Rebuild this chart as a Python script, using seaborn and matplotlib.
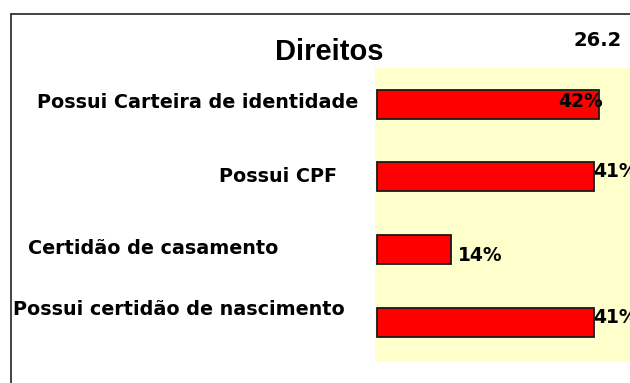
import matplotlib
matplotlib.use("Agg")
import matplotlib.pyplot as plt
import matplotlib.transforms as mtransforms
from matplotlib.lines import Line2D
import seaborn as sns
import pandas as pd

# Chart data
categories = [
    "Possui Carteira de identidade",
    "Possui CPF",
    "Certidão de casamento",
    "Possui certidão de nascimento",
]
values = [42, 41, 14, 41]
title = "Direitos"
corner_note = "26.2"

df = pd.DataFrame({"item": categories, "pct": values})

sns.set_theme(style="white")
plt.rcParams["font.family"] = ["DejaVu Sans"]
plt.rcParams["text.color"] = "black"

W, H = 630, 383
fig = plt.figure(figsize=(W / 100, H / 100), dpi=100)
fig.patch.set_facecolor("white")

# plot area in pixel terms
left_px, right_px, top_px, bottom_px = 375, 630, 68, 362
ax = fig.add_axes([left_px / W, 1 - bottom_px / H,
                   (right_px - left_px) / W, (bottom_px - top_px) / H])
ax.set_facecolor("#FFFFCC")

sns.barplot(data=df, y="item", x="pct", orient="h", color="#FF0000",
            saturation=1, edgecolor="#1a1a1a", linewidth=1.3, width=0.4, ax=ax)

ax.set_xlim(-0.38, 47.9)
ax.set_ylim(3.55, -0.5)
ax.set_xticks([])
ax.set_yticks([])
ax.set_xlabel("")
ax.set_ylabel("")
for s in ax.spines.values():
    s.set_visible(False)

# value labels (x offset in points, y offset in points, alignment)
value_style = [(3, 2, "right"), (0, 4, "left"), (5, -4, "left"), (0, 3, "left")]
for i, (v, (dx, dy, ha)) in enumerate(zip(values, value_style)):
    ax.annotate(f"{v}%", xy=(v, i), xytext=(dx, dy), textcoords="offset points",
                ha=ha, va="center", fontsize=13.5, fontweight="bold",
                color="black", annotation_clip=False)

# category labels placed to the left of the plot area
label_right_px = [358, 337, 278, 345]
label_dy = [1, 0, 1, 9]
blend = mtransforms.blended_transform_factory(fig.transFigure, ax.transData)
for i, (name, rx, dy) in enumerate(zip(categories, label_right_px, label_dy)):
    off = mtransforms.offset_copy(blend, fig=fig, x=0, y=dy, units="points")
    fig.text(rx / W, i, name, transform=off, ha="right", va="center",
             fontsize=13.8, fontweight="bold", color="black")

fig.text(329 / W, 1 - 52 / H, title, ha="center", va="center",
         fontsize=21, fontweight="bold", family="Liberation Sans", color="black")
fig.text(598 / W, 1 - 41 / H, corner_note, ha="center", va="center",
         fontsize=14, fontweight="bold", color="black")

# outer frame (left and top edges)
fig.add_artist(Line2D([11 / W, 11 / W], [0, 1 - 14 / H], transform=fig.transFigure,
                      color="#333333", linewidth=1.3))
fig.add_artist(Line2D([11 / W, 1], [1 - 14 / H, 1 - 14 / H], transform=fig.transFigure,
                      color="#333333", linewidth=1.3))

fig.savefig("out.png", dpi=100, facecolor="white")
